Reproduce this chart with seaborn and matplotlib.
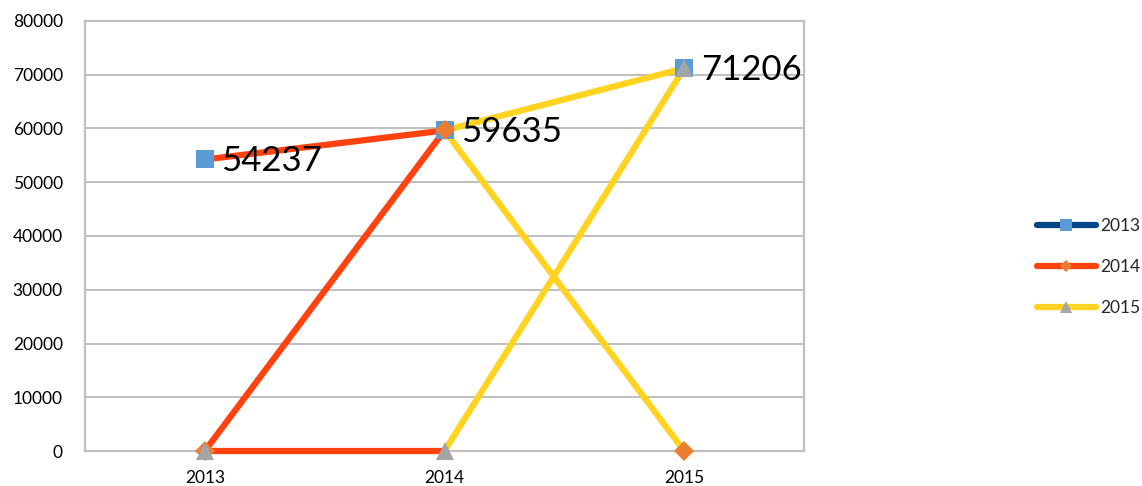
import matplotlib
matplotlib.use("Agg")
import matplotlib.pyplot as plt
import seaborn as sns
import pandas as pd
from matplotlib.lines import Line2D

categories = ["2013", "2014", "2015"]
series_names = ["2013", "2014", "2015"]
values_2013 = [54237, 59635, 71206]
values_2014 = [0, 59635, 0]
values_2015 = [0, 0, 71206]
labelled_values = [54237, 59635, 71206]

sns.set_theme(style="white")
plt.rcParams["font.family"] = ["Lato", "DejaVu Sans"]

seg_colors = ["#FF420E", "#FFD320"]
legend_line_colors = ["#004586", "#FF420E", "#FFD320"]
marker_colors = ["#5B9BD5", "#ED7D31", "#A5A5A5"]
markers = ["s", "D", "^"]
msizes = [13.5, 9.7, 13.5]

rows = []
for name, vals in zip(series_names, [values_2013, values_2014, values_2015]):
    for i, (c, v) in enumerate(zip(categories, vals)):
        rows.append({"series": name, "cat": c, "x": i, "value": v})
df = pd.DataFrame(rows)

fig = plt.figure(figsize=(11.42, 4.86), dpi=100)
ax = fig.add_axes([85 / 1142, 35 / 486, 719 / 1142, 430 / 486])

for s_idx, name in enumerate(series_names):
    sub = df[df["series"] == name]
    for seg in range(len(categories) - 1):
        part = sub[(sub["x"] >= seg) & (sub["x"] <= seg + 1)]
        sns.lineplot(data=part, x="x", y="value", ax=ax, color=seg_colors[seg],
                     linewidth=4.5, solid_capstyle="butt", legend=False,
                     zorder=4, clip_on=False)
for s_idx, name in enumerate(series_names):
    sub = df[df["series"] == name]
    sns.lineplot(data=sub, x="x", y="value", ax=ax, linestyle="none",
                 marker=markers[s_idx], markersize=msizes[s_idx],
                 markerfacecolor=marker_colors[s_idx], markeredgewidth=0,
                 color=marker_colors[s_idx], legend=False, zorder=5 + s_idx,
                 clip_on=False)

for i, v in enumerate(labelled_values):
    ax.annotate(str(v), xy=(i, v), xytext=(12, -1), textcoords="offset points",
                ha="left", va="center", fontsize=25, color="black", zorder=10,
                annotation_clip=False)

ax.set_xlim(-0.5, 2.5)
ax.set_ylim(0, 80000)
ax.set_xticks(range(len(categories)))
ax.set_xticklabels(categories)
ax.set_yticks(range(0, 80001, 10000))
ax.set_yticklabels([str(t) for t in range(0, 80001, 10000)])
ax.tick_params(axis="both", length=0, labelsize=12.5, colors="black")
ax.tick_params(axis="x", pad=14)
ax.tick_params(axis="y", pad=16)
ax.set_xlabel("")
ax.set_ylabel("")
ax.yaxis.grid(True, color="#BFBFBF", linewidth=1.4)
ax.xaxis.grid(False)
ax.set_axisbelow(True)
for sp in ax.spines.values():
    sp.set_visible(True)
    sp.set_color("#BFBFBF")
    sp.set_linewidth(1.6)

handles = []
for i in range(3):
    handles.append(Line2D([0], [0], color=legend_line_colors[i], linewidth=4.5,
                          solid_capstyle="round", marker=markers[i],
                          markersize=[8.5, 6, 8.5][i], markerfacecolor=marker_colors[i],
                          markeredgewidth=0))
leg = fig.legend(handles, series_names, loc="center left",
                 bbox_to_anchor=(1030 / 1142, 1 - 267 / 486), frameon=False,
                 fontsize=12.5, handlelength=3.4, handletextpad=0.25,
                 labelspacing=1.45, borderaxespad=0)

fig.savefig("out.png", dpi=100)
